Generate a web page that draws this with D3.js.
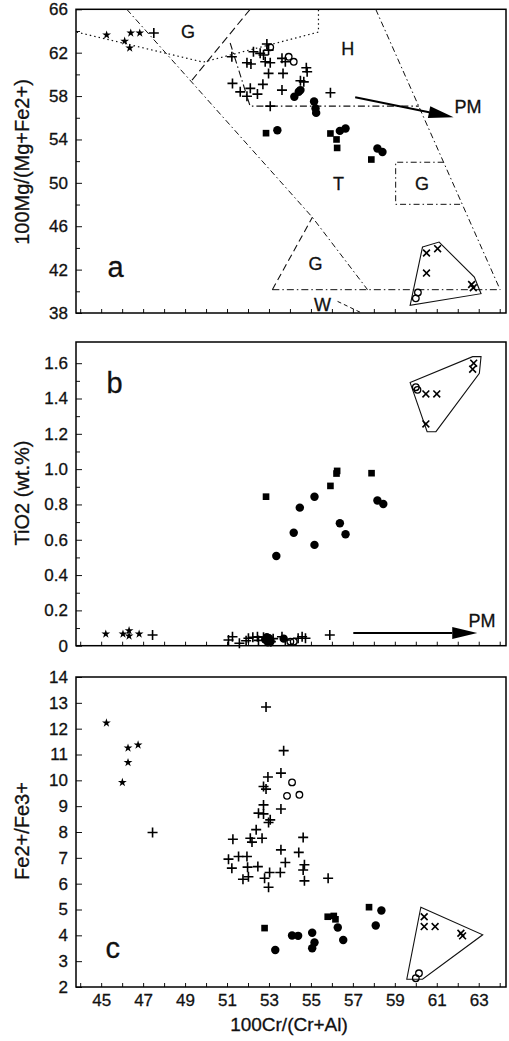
<!DOCTYPE html>
<html lang="en">
<head>
  <meta charset="UTF-8">
  <title>Spinel Cr# plots</title>
  <script src="https://d3js.org/d3.v7.min.js"></script>
  <style>
    body {
      margin: 0;
      background: #fff;
    }

    svg {
      display: block;
      font-family: "Liberation Sans", Arial, sans-serif;
    }

    svg text {
      stroke: #111;
      stroke-width: 0.3;
    }

    .tick text {
      font-size: 17px;
      fill: #111;
    }

    .tick line {
      stroke: #111;
    }
  </style>
</head>
<body>
  <svg width="509" height="1041"></svg>

  <script>
    // ---- shared x axis: 100Cr/(Cr+Al)
    const crDomain = [43.8, 64.3];
    const crTicks = d3.range(44, 65);
    const crLabels = [45, 47, 49, 51, 53, 55, 57, 59, 61, 63];

    // ---- panel a: 100Mg/(Mg+Fe2+)
    const mgDomain = [38, 66];
    const mgTicks = [38, 42, 46, 50, 54, 58, 62, 66];
    const mgMinor = [40, 44, 48, 52, 56, 60, 64];

    const aStars = [[45.26, 63.63], [46.12, 63.07], [46.41, 63.81], [46.36, 62.43], [46.84, 63.81]];
    const aPlus = [
      [47.51, 63.81], [51.23, 61.62], [51.95, 61.07], [52.14, 60.95], [52.26, 62.09],
      [52.58, 61.94], [52.74, 61.78], [52.90, 62.80], [52.98, 62.24], [52.82, 61.16],
      [53.06, 61.07], [52.98, 60.09], [53.62, 61.48], [53.78, 61.16], [53.67, 60.09],
      [54.78, 60.61], [54.82, 60.24], [54.50, 59.41], [54.66, 59.31], [51.26, 59.17],
      [51.63, 58.39], [52.11, 58.71], [52.45, 58.18], [51.95, 57.99], [52.71, 59.08],
      [53.62, 58.55], [53.06, 57.07], [55.93, 58.30]
    ];
    const aDots = [
      [54.21, 57.93], [54.42, 58.39], [54.50, 58.55], [55.15, 57.50], [55.22, 56.86],
      [55.25, 56.45], [56.38, 54.79], [56.65, 55.01], [53.40, 54.85], [58.17, 53.17],
      [58.41, 52.85]
    ];
    const aSquares = [[52.86, 54.58], [55.93, 54.55], [56.22, 54.00], [56.25, 53.22], [57.88, 52.15]];
    const aOpen = [[53.94, 61.62], [54.18, 61.16], [53.06, 62.49], [60.10, 39.89], [60.00, 39.35]];
    const aCross = [[60.51, 43.53], [61.04, 43.93], [60.51, 41.68], [62.66, 40.63], [62.74, 40.33]];
    const aHull = [[60.32, 44.08], [61.11, 44.54], [62.79, 41.31], [63.11, 39.78], [59.73, 38.70]];

    // field boundaries (panel a)
    const aDotted = [[43.83, 63.9], [49.86, 61.13], [55.36, 63.9], [55.36, 66]];
    const aDiagLeft = [[46.22, 66], [55.07, 46.82], [57.70, 40.15]];
    const aDashG = [[52.10, 66], [49.33, 59.47]];
    const aHarz = [[51.15, 62.89], [52.10, 57.07], [60.14, 57.07]];
    const aDiagRight = [[58.09, 66], [64.02, 40.15]];
    const aBase = [[53.16, 40.15], [64.02, 40.15]];
    const aTriLeft = [[53.16, 40.15], [55.07, 46.82]];
    const aBox = [[61.33, 51.9], [59.04, 51.9], [59.04, 48.02], [62.22, 48.02]];
    const aW = [[56.27, 39.07], [57.37, 38.05]];
    const aArrow = [[57.11, 57.9], [61.8, 56.05]];

    const aLabels = [
      {t: "G", x: 49.14, y: 63.35}, {t: "H", x: 56.75, y: 61.78},
      {t: "PM", x: 62.49, y: 56.42}, {t: "T", x: 56.32, y: 49.3},
      {t: "G", x: 60.29, y: 49.3}, {t: "G", x: 55.22, y: 41.93},
      {t: "W", x: 55.55, y: 38.23}
    ];

    // ---- panel b: TiO2 (wt.%)
    const tiDomain = [0, 1.72];
    const tiTicks = [0, 0.2, 0.4, 0.6, 0.8, 1.0, 1.2, 1.4, 1.6];
    const tiMinor = [0.1, 0.3, 0.5, 0.7, 0.9, 1.1, 1.3, 1.5];

    const bStars = [[45.22, 0.066], [46.04, 0.066], [46.33, 0.085], [46.33, 0.055], [46.81, 0.066]];
    const bPlus = [
      [47.45, 0.061], [51.07, 0.032], [51.26, 0.051], [51.59, 0.014], [51.91, 0.028],
      [52.02, 0.042], [52.23, 0.048], [52.45, 0.051], [52.74, 0.048], [53.09, 0.023],
      [53.62, 0.051], [53.78, 0.032], [54.39, 0.042], [54.58, 0.051], [54.74, 0.042],
      [55.90, 0.061], [52.50, 0.030], [53.20, 0.040]
    ];
    const bDots = [
      [55.17, 0.844], [54.47, 0.782], [54.18, 0.640], [56.38, 0.693], [56.65, 0.631],
      [55.17, 0.571], [53.35, 0.508], [58.17, 0.822], [58.45, 0.803],
      [52.82, 0.035], [52.95, 0.020], [53.00, 0.042], [53.08, 0.025], [52.90, 0.048], [53.70, 0.040]
    ];
    const bSquares = [[52.86, 0.844], [55.93, 0.905], [56.25, 0.990], [56.22, 0.975], [57.89, 0.977]];
    const bOpen = [[54.02, 0.023], [54.18, 0.023], [60.00, 1.464], [60.08, 1.449]];
    const bCross = [[60.48, 1.426], [61.00, 1.426], [60.48, 1.256], [62.76, 1.600], [62.71, 1.566]];
    const bHull = [[59.73, 1.490], [62.71, 1.637], [63.11, 1.637], [63.03, 1.543], [60.96, 1.212], [60.54, 1.212]];
    const bArrow = [[57.02, 0.072], [62.93, 0.072]];
    const bLabels = [{t: "PM", x: 63.15, y: 0.106}];

    // ---- panel c: Fe2+/Fe3+
    const feDomain = [2, 14];
    const feTicks = d3.range(2, 15);

    const cStars = [[45.25, 12.22], [46.28, 11.25], [46.28, 10.69], [46.76, 11.37], [46.01, 9.92]];
    const cPlus = [
      [47.45, 7.98], [52.86, 12.84], [53.70, 11.15], [53.57, 10.28], [52.95, 10.13],
      [52.74, 9.76], [52.86, 9.66], [52.74, 9.05], [53.57, 8.89], [52.50, 8.73],
      [52.74, 8.70], [53.06, 8.47], [52.98, 8.37], [52.39, 8.09], [51.28, 7.72],
      [52.11, 7.76], [52.19, 7.61], [52.67, 7.76], [54.63, 7.79], [53.57, 7.31],
      [54.42, 7.21], [51.07, 6.95], [51.55, 7.05], [51.95, 7.05], [53.78, 6.82],
      [51.23, 6.60], [51.98, 6.64], [52.47, 6.66], [53.03, 6.43], [53.54, 6.43],
      [54.69, 6.73], [54.63, 6.53], [51.76, 6.17], [52.02, 6.27], [52.79, 6.21],
      [54.69, 6.11], [55.82, 6.21], [52.98, 5.86]
    ];
    const cDots = [
      [53.30, 3.43], [54.10, 3.99], [54.39, 3.98], [55.06, 4.10], [55.17, 3.72],
      [55.06, 3.50], [56.28, 4.30], [56.54, 3.82], [58.09, 4.38], [58.36, 4.96]
    ];
    const cSquares = [[52.79, 4.28], [55.80, 4.72], [56.09, 4.75], [56.17, 4.62], [57.77, 5.09]];
    const cOpen = [[54.10, 9.92], [53.86, 9.40], [54.45, 9.44], [60.00, 2.34], [60.15, 2.53]];
    const cCross = [[60.40, 4.72], [60.40, 4.34], [60.92, 4.34], [62.15, 4.08], [62.23, 3.98]];
    const cHull = [[60.24, 5.09], [63.19, 4.02], [60.32, 2.30], [59.57, 2.30]];

    // ---- layout
    const svg = d3.select("svg");
    svg.append("rect").attr("width", 509).attr("height", 1041).attr("fill", "#fff");

    const x = d3.scaleLinear().domain(crDomain).range([76, 506]);

    const panels = [
      {y: d3.scaleLinear().domain(mgDomain).range([313, 9.3]), ticks: mgTicks, minor: mgMinor,
       fmt: d => d, title: "100Mg/(Mg+Fe2+)", titleY: 162, letter: "a", letterAt: [45.69, 41.29]},
      {y: d3.scaleLinear().domain(tiDomain).range([645.7, 342]), ticks: tiTicks, minor: tiMinor,
       fmt: d => d === 0 ? "0" : d.toFixed(1), title: "TiO2 (wt.%)", titleY: 493, letter: "b", letterAt: [45.64, 1.432]},
      {y: d3.scaleLinear().domain(feDomain).range([987, 677]), ticks: feTicks, minor: [],
       fmt: d => d, title: "Fe2+/Fe3+", titleY: 831, letter: "c", letterAt: [45.55, 3.12]}
    ];

    const plusPath = "M-5,0H5M0,-5V5";
    const crossPath = "M-3.4,-3.4L3.4,3.4M-3.4,3.4L3.4,-3.4";

    function drawPoints(g, y, data, kind) {
      const sel = g.append("g").selectAll("path")
        .data(data)
        .join("path")
        .attr("transform", d => `translate(${x(d[0])},${y(d[1])})`);

      if (kind === "plus") {
        sel.attr("d", plusPath).attr("stroke", "#000").attr("stroke-width", 1.6).attr("fill", "none");
      } else if (kind === "cross") {
        sel.attr("d", crossPath).attr("stroke", "#000").attr("stroke-width", 1.6).attr("fill", "none");
      } else if (kind === "star") {
        sel.attr("d", d3.symbol(d3.symbolStar, 24)).attr("fill", "#000");
      } else if (kind === "dot") {
        sel.attr("d", d3.symbol(d3.symbolCircle, 56)).attr("fill", "#000");
      } else if (kind === "square") {
        sel.attr("d", d3.symbol(d3.symbolSquare, 44)).attr("fill", "#000");
      } else if (kind === "open") {
        sel.attr("d", d3.symbol(d3.symbolCircle, 34)).attr("fill", "none")
          .attr("stroke", "#000").attr("stroke-width", 1.3);
      }
    }

    function drawLine(g, y, pts, dash, width = 1, closed = false) {
      const line = d3.line().x(d => x(d[0])).y(d => y(d[1]));
      g.append("path")
        .attr("d", line(pts) + (closed ? "Z" : ""))
        .attr("fill", "none")
        .attr("stroke", "#111")
        .attr("stroke-width", width)
        .attr("stroke-dasharray", dash);
    }

    function drawArrow(g, y, pts) {
      const [x0, y0] = [x(pts[0][0]), y(pts[0][1])];
      const [x1, y1] = [x(pts[1][0]), y(pts[1][1])];
      const ang = Math.atan2(y1 - y0, x1 - x0);
      const len = 25, half = 6;
      const bx = x1 - len * Math.cos(ang), by = y1 - len * Math.sin(ang);
      g.append("line")
        .attr("x1", x0).attr("y1", y0).attr("x2", bx).attr("y2", by)
        .attr("stroke", "#000").attr("stroke-width", 2);
      g.append("path")
        .attr("d", `M${x1},${y1}L${bx - half * Math.sin(ang)},${by + half * Math.cos(ang)}` +
                   `L${bx + half * Math.sin(ang)},${by - half * Math.cos(ang)}Z`)
        .attr("fill", "#000");
    }

    function drawLabels(g, y, labels) {
      g.append("g").selectAll("text")
        .data(labels)
        .join("text")
        .attr("x", d => x(d.x))
        .attr("y", d => y(d.y))
        .attr("text-anchor", "middle")
        .attr("font-size", 18)
        .attr("fill", "#111")
        .text(d => d.t);
    }

    panels.forEach((p, i) => {
      const g = svg.append("g");
      const [yBot, yTop] = p.y.range();

      // y axis, ticks inside
      g.append("g")
        .attr("transform", "translate(76,0)")
        .call(d3.axisLeft(p.y).tickValues(p.ticks).tickSize(-6).tickPadding(8).tickFormat(p.fmt))
        .call(a => a.select(".domain").remove());
      g.append("g")
        .attr("transform", "translate(76,0)")
        .call(d3.axisLeft(p.y).tickValues(p.minor).tickSize(-4).tickFormat(""))
        .call(a => a.select(".domain").remove());

      // x axis ticks on every panel, labels only on the last one
      g.append("g")
        .attr("transform", `translate(0,${yBot})`)
        .call(d3.axisBottom(x).tickValues(crTicks).tickSize(-4).tickPadding(7)
          .tickFormat(d => (i === 2 && crLabels.includes(d)) ? d : ""))
        .call(a => a.select(".domain").remove());

      // frame
      g.append("rect")
        .attr("x", 76).attr("y", yTop)
        .attr("width", 430).attr("height", yBot - yTop)
        .attr("fill", "none").attr("stroke", "#000").attr("stroke-width", 1.5);

      // axis title
      g.append("text")
        .attr("transform", `translate(29,${p.titleY}) rotate(-90)`)
        .attr("text-anchor", "middle")
        .attr("font-size", 20)
        .attr("fill", "#111")
        .text(p.title);

      // panel letter
      g.append("text")
        .attr("x", x(p.letterAt[0]))
        .attr("y", p.y(p.letterAt[1]))
        .attr("text-anchor", "middle")
        .attr("font-size", 29)
        .attr("fill", "#111")
        .text(p.letter);

      p.g = g;
    });

    // panel a
    const ga = panels[0].g, ya = panels[0].y;
    drawLine(ga, ya, aDotted, "1.5,3", 1.2);
    drawLine(ga, ya, aDiagLeft, "6,3,1.5,3", 1);
    drawLine(ga, ya, aDashG, "8,4", 1.1);
    drawLine(ga, ya, aHarz, "7,3,1.5,3", 1.1);
    drawLine(ga, ya, aDiagRight, "6,3,1.5,3", 1);
    drawLine(ga, ya, aBase, "7,3,1.5,3", 1);
    drawLine(ga, ya, aTriLeft, "7,4", 1.1);
    drawLine(ga, ya, aBox, "6,3,1.5,3", 1);
    drawLine(ga, ya, aW, "4,3", 1);
    drawLine(ga, ya, aHull, null, 1.1, true);
    drawArrow(ga, ya, aArrow);
    drawLabels(ga, ya, aLabels);
    drawPoints(ga, ya, aStars, "star");
    drawPoints(ga, ya, aPlus, "plus");
    drawPoints(ga, ya, aDots, "dot");
    drawPoints(ga, ya, aSquares, "square");
    drawPoints(ga, ya, aOpen, "open");
    drawPoints(ga, ya, aCross, "cross");

    // panel b
    const gb = panels[1].g, yb = panels[1].y;
    drawLine(gb, yb, bHull, null, 1.1, true);
    drawArrow(gb, yb, bArrow);
    drawLabels(gb, yb, bLabels);
    drawPoints(gb, yb, bStars, "star");
    drawPoints(gb, yb, bPlus, "plus");
    drawPoints(gb, yb, bDots, "dot");
    drawPoints(gb, yb, bSquares, "square");
    drawPoints(gb, yb, bOpen, "open");
    drawPoints(gb, yb, bCross, "cross");

    // panel c
    const gc = panels[2].g, yc = panels[2].y;
    drawLine(gc, yc, cHull, null, 1.1, true);
    drawPoints(gc, yc, cStars, "star");
    drawPoints(gc, yc, cPlus, "plus");
    drawPoints(gc, yc, cDots, "dot");
    drawPoints(gc, yc, cSquares, "square");
    drawPoints(gc, yc, cOpen, "open");
    drawPoints(gc, yc, cCross, "cross");

    // x title
    svg.append("text")
      .attr("x", 289)
      .attr("y", 1031)
      .attr("text-anchor", "middle")
      .attr("font-size", 19)
      .attr("fill", "#111")
      .text("100Cr/(Cr+Al)");
  </script>
</body>
</html>
